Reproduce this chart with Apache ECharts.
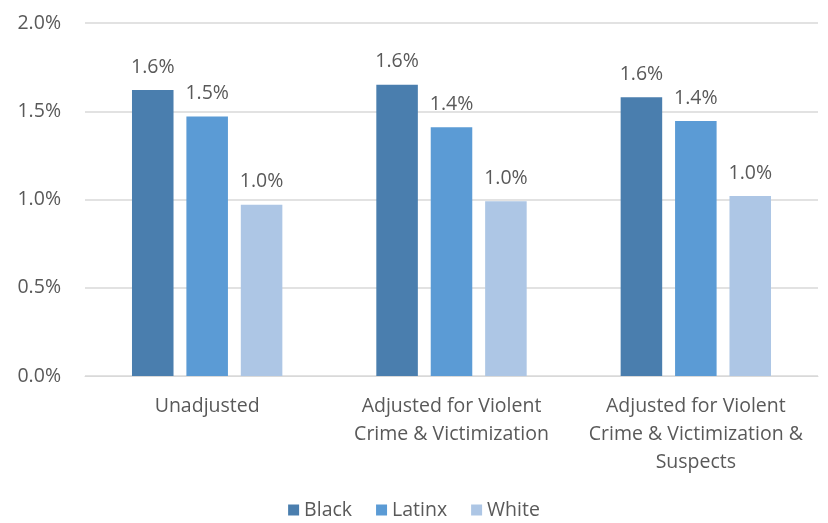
<!DOCTYPE html>
<html><head><meta charset="utf-8">
<script src="https://cdn.jsdelivr.net/npm/echarts@6/dist/echarts.min.js"></script>
<style>html,body{margin:0;padding:0;background:#fff}#c{width:828px;height:523px}</style>
</head><body><div id="c"></div>
<script>
const categories = ["Unadjusted", "Adjusted for Violent\nCrime & Victimization", "Adjusted for Violent\nCrime & Victimization &\nSuspects"];
const black = [1.62, 1.65, 1.58];
const latinx = [1.47, 1.41, 1.445];
const white = [0.97, 0.99, 1.02];
const yTicks = [0, 0.5, 1.0, 1.5, 2.0];

const font = "'Open Sans', 'Liberation Sans', sans-serif";
const txt = '#595959';
const fs = 19.5;
function mk(name, data, color) {
  return {
    name, type: 'bar', data, barWidth: '17%', barGap: '31%',
    itemStyle: { color },
    label: { show: true, position: 'top', distance: 13, formatter: p => p.value.toFixed(1) + '%',
      color: txt, fontSize: fs, fontFamily: font }
  };
}
const chart = echarts.init(document.getElementById('c'));
chart.setOption({
  animation: false,
  grid: { left: 85, right: 10, top: 23, bottom: 147 },
  legend: { bottom: -2, left: 'center', itemWidth: 11, itemHeight: 11, itemGap: 24,
    icon: 'rect', textStyle: { color: txt, fontSize: fs, fontFamily: font } },
  xAxis: { type: 'category', data: categories,
    axisLine: { lineStyle: { color: '#d9d9d9' } }, axisTick: { show: false },
    axisLabel: { color: txt, fontSize: fs, fontFamily: font, lineHeight: 28, margin: 16, interval: 0 } },
  yAxis: { type: 'value', min: yTicks[0], max: yTicks[yTicks.length - 1], interval: 0.5,
    axisLabel: { color: txt, fontSize: fs, fontFamily: font, margin: 24, formatter: v => v.toFixed(1) + '%' },
    splitLine: { lineStyle: { color: '#d9d9d9', width: 1.5 } }, axisLine: { show: false }, axisTick: { show: false } },
  series: [mk('Black', black, '#4a7eae'), mk('Latinx', latinx, '#5b9bd5'), mk('White', white, '#adc6e5')]
});
</script></body></html>
